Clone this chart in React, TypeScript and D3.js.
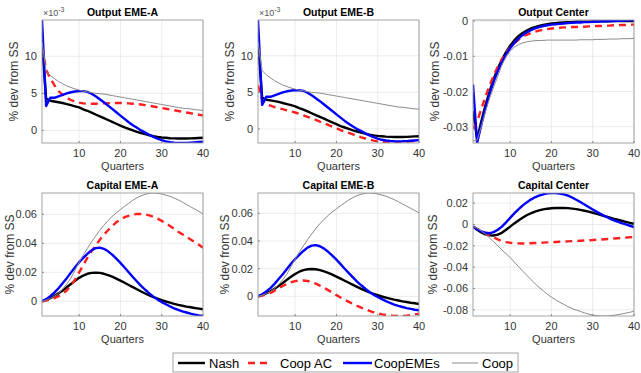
import React from 'react'
import * as d3 from 'd3'

const quarters = d3.range(1, 41)

// Output EME-A / EME-B, in units of 1e-3 (Nash, CoopEMEs, Coop are the same for both)
const outputEmeNash = [11.8, 4.3, 4.0, 3.9, 3.8, 3.7, 3.55, 3.4, 3.25, 3.1, 2.85, 2.65, 2.4, 2.15, 1.9, 1.65, 1.4, 1.15, 0.9, 0.65, 0.4, 0.2, 0.0, -0.2, -0.35, -0.5, -0.65, -0.78, -0.88, -0.95, -1.0, -1.05, -1.08, -1.1, -1.1, -1.1, -1.08, -1.05, -1.02, -1.0]
const outputEmeCoopEMEs = [14.9, 3.3, 4.4, 4.4, 4.6, 4.8, 5.0, 5.15, 5.25, 5.3, 5.3, 5.2, 4.95, 4.6, 4.2, 3.8, 3.35, 2.9, 2.45, 2.0, 1.55, 1.1, 0.7, 0.35, 0.0, -0.3, -0.6, -0.88, -1.12, -1.32, -1.48, -1.58, -1.65, -1.69, -1.7, -1.69, -1.66, -1.62, -1.57, -1.52]
const outputEmeCoop = [12.0, 8.0, 7.4, 7.0, 6.6, 6.3, 6.0, 5.8, 5.6, 5.45, 5.3, 5.2, 5.1, 5.0, 4.95, 4.9, 4.8, 4.7, 4.6, 4.5, 4.4, 4.3, 4.2, 4.1, 4.0, 3.9, 3.8, 3.7, 3.6, 3.5, 3.4, 3.3, 3.2, 3.1, 3.0, 2.95, 2.9, 2.8, 2.75, 2.7]
const outputACoopAC = [11.3, 8.2, 7.0, 6.1, 5.3, 4.8, 4.4, 4.1, 3.9, 3.75, 3.65, 3.6, 3.6, 3.6, 3.62, 3.65, 3.67, 3.7, 3.7, 3.7, 3.68, 3.65, 3.6, 3.55, 3.5, 3.42, 3.33, 3.23, 3.13, 3.02, 2.92, 2.82, 2.72, 2.62, 2.52, 2.42, 2.32, 2.22, 2.12, 2.0]
const outputBCoopAC = [6.0, 4.0, 3.4, 3.2, 3.0, 2.85, 2.7, 2.55, 2.4, 2.25, 2.05, 1.85, 1.65, 1.45, 1.25, 1.0, 0.8, 0.55, 0.3, 0.1, -0.15, -0.35, -0.55, -0.75, -0.95, -1.15, -1.3, -1.45, -1.6, -1.7, -1.8, -1.85, -1.9, -1.92, -1.9, -1.85, -1.78, -1.7, -1.62, -1.52]

// Output Center
const outputCenterNash = [-0.0255, -0.0335, -0.0285, -0.024, -0.02, -0.0165, -0.0135, -0.011, -0.0088, -0.007, -0.0055, -0.0043, -0.0034, -0.0027, -0.0021, -0.0017, -0.0014, -0.0011, -0.0009, -0.0007, -0.0006, -0.0005, -0.0004, -0.0003, -0.0003, -0.0002, -0.0002, -0.0002, -0.0002, -0.0001, -0.0001, -0.0001, -0.0001, -0.0001, 0, 0, 0, 0, 0, 0]
const outputCenterCoopAC = [-0.0305, -0.0285, -0.025, -0.0215, -0.0183, -0.0155, -0.013, -0.0108, -0.009, -0.0075, -0.0063, -0.0053, -0.0045, -0.0039, -0.0034, -0.003, -0.0027, -0.0025, -0.0023, -0.0021, -0.002, -0.0019, -0.0018, -0.0018, -0.0017, -0.0017, -0.0016, -0.0016, -0.0015, -0.0015, -0.0014, -0.0014, -0.0013, -0.0013, -0.0012, -0.0012, -0.0011, -0.0011, -0.001, -0.001]
const outputCenterCoopEMEs = [-0.018, -0.0346, -0.0295, -0.0248, -0.0207, -0.0172, -0.0142, -0.0117, -0.0095, -0.0077, -0.0062, -0.005, -0.004, -0.0032, -0.0026, -0.0021, -0.0017, -0.0014, -0.0012, -0.001, -0.0009, -0.0008, -0.0007, -0.0006, -0.0005, -0.0004, -0.0004, -0.0003, -0.0003, -0.0002, -0.0002, -0.0001, -0.0001, 0, 0, 0.0001, 0.0001, 0.0002, 0.0002, 0.0003]
const outputCenterCoop = [-0.034, -0.0338, -0.03, -0.0258, -0.022, -0.0187, -0.0157, -0.0125, -0.0102, -0.0085, -0.0074, -0.0067, -0.0062, -0.0059, -0.0057, -0.0056, -0.0055, -0.0055, -0.0054, -0.0054, -0.0054, -0.0054, -0.0054, -0.0054, -0.0054, -0.0054, -0.0053, -0.0053, -0.0053, -0.0053, -0.0052, -0.0052, -0.0052, -0.0051, -0.0051, -0.0051, -0.005, -0.005, -0.005, -0.0049]

// Capital EME-A / EME-B
const capitalEmeNash = [0, 0.001, 0.0022, 0.0037, 0.0055, 0.0075, 0.0097, 0.012, 0.0142, 0.0162, 0.0178, 0.019, 0.0196, 0.0198, 0.0196, 0.019, 0.0181, 0.017, 0.0157, 0.0143, 0.0128, 0.0113, 0.0098, 0.0083, 0.0068, 0.0054, 0.0041, 0.0029, 0.0018, 0.0008, -0.0001, -0.0009, -0.0017, -0.0024, -0.003, -0.0036, -0.0041, -0.0046, -0.005, -0.0055]
const capitalEmeCoopEMEs = [0, 0.0015, 0.0035, 0.006, 0.009, 0.0125, 0.016, 0.0198, 0.0235, 0.027, 0.03, 0.0328, 0.0352, 0.0367, 0.037, 0.0362, 0.0345, 0.0322, 0.0295, 0.0265, 0.0233, 0.02, 0.0168, 0.0137, 0.0107, 0.008, 0.0055, 0.0032, 0.0012, -0.0005, -0.002, -0.0035, -0.0048, -0.0059, -0.0069, -0.0077, -0.0085, -0.0091, -0.0097, -0.0101]
const capitalEmeCoop = [0, 0.0008, 0.002, 0.0035, 0.0055, 0.0085, 0.012, 0.016, 0.0215, 0.027, 0.032, 0.0365, 0.041, 0.045, 0.049, 0.0525, 0.0557, 0.0585, 0.061, 0.0633, 0.0655, 0.0676, 0.0697, 0.0714, 0.0728, 0.0738, 0.0745, 0.0747, 0.0745, 0.074, 0.0732, 0.0724, 0.0712, 0.0699, 0.0684, 0.0668, 0.0652, 0.0636, 0.062, 0.0603]
const capitalACoopAC = [0, 0.0005, 0.0012, 0.0022, 0.0035, 0.0052, 0.0075, 0.011, 0.015, 0.02, 0.025, 0.03, 0.0345, 0.0385, 0.0425, 0.046, 0.049, 0.052, 0.0545, 0.0565, 0.058, 0.059, 0.0598, 0.0602, 0.0602, 0.06, 0.0593, 0.0583, 0.057, 0.0555, 0.0538, 0.052, 0.05, 0.048, 0.0462, 0.0445, 0.0427, 0.0408, 0.039, 0.037]
const capitalBCoopAC = [0, 0.0005, 0.0013, 0.0025, 0.004, 0.0058, 0.0075, 0.009, 0.0102, 0.011, 0.0115, 0.0115, 0.0111, 0.0103, 0.0092, 0.0078, 0.0062, 0.0045, 0.0027, 0.0009, -0.0008, -0.0025, -0.004, -0.0055, -0.0069, -0.0082, -0.0094, -0.0105, -0.0115, -0.0123, -0.013, -0.0135, -0.0139, -0.0141, -0.0142, -0.0141, -0.0139, -0.0135, -0.013, -0.0125]

// Capital Center
const capitalCenterNash = [-0.002, -0.005, -0.0075, -0.0092, -0.0102, -0.0103, -0.0095, -0.0078, -0.005, -0.002, 0.001, 0.0038, 0.0063, 0.0086, 0.0105, 0.012, 0.0132, 0.0141, 0.0148, 0.0152, 0.0155, 0.0156, 0.0155, 0.0153, 0.0149, 0.0144, 0.0137, 0.0129, 0.012, 0.011, 0.0099, 0.0088, 0.0077, 0.0066, 0.0055, 0.0045, 0.0035, 0.0025, 0.0015, 0.0006]
const capitalCenterCoopAC = [-0.002, -0.004, -0.006, -0.008, -0.01, -0.012, -0.014, -0.0155, -0.0165, -0.0171, -0.0175, -0.0177, -0.0178, -0.0177, -0.0176, -0.0174, -0.0172, -0.017, -0.0168, -0.0166, -0.0164, -0.0162, -0.016, -0.0158, -0.0156, -0.0154, -0.0152, -0.015, -0.0148, -0.0146, -0.0143, -0.0141, -0.0138, -0.0135, -0.0132, -0.0129, -0.0126, -0.0123, -0.012, -0.0117]
const capitalCenterCoopEMEs = [-0.002, -0.0045, -0.0065, -0.0078, -0.0082, -0.0072, -0.005, -0.002, 0.002, 0.0062, 0.0104, 0.0142, 0.0177, 0.0207, 0.0233, 0.0255, 0.0271, 0.0283, 0.0291, 0.0295, 0.0294, 0.029, 0.0282, 0.027, 0.0253, 0.0232, 0.021, 0.0187, 0.0163, 0.014, 0.0118, 0.0097, 0.0077, 0.0058, 0.0041, 0.0026, 0.0012, 0.0, -0.0012, -0.0025]
const capitalCenterCoop = [-0.002, -0.0035, -0.006, -0.009, -0.0125, -0.0162, -0.02, -0.0238, -0.0274, -0.031, -0.0352, -0.0394, -0.0435, -0.0475, -0.0515, -0.0553, -0.0589, -0.0622, -0.0653, -0.0681, -0.0706, -0.0729, -0.0749, -0.077, -0.0788, -0.0802, -0.0815, -0.0828, -0.084, -0.0849, -0.0855, -0.0858, -0.0858, -0.0856, -0.0852, -0.0846, -0.0839, -0.0831, -0.0823, -0.0814]

const xTicks = [10, 20, 30, 40]
const outputEmeTicks = [0, 5, 10]
const outputCenterTicks = [-0.03, -0.02, -0.01, 0]
const capitalEmeTicks = [0, 0.02, 0.04, 0.06]
const capitalCenterTicks = [-0.08, -0.06, -0.04, -0.02, 0, 0.02]

const seriesNames = ['Nash', 'Coop AC', 'CoopEMEs', 'Coop']

const styles = [
  { stroke: '#000000', width: 2.4, dash: null },
  { stroke: '#ff1f1f', width: 2.4, dash: '7 5' },
  { stroke: '#0000ff', width: 2.4, dash: null },
  { stroke: '#8a8a8a', width: 1, dash: null },
]

const panels = [
  { title: 'Output EME-A', col: 0, row: 0, series: [outputEmeNash, outputACoopAC, outputEmeCoopEMEs, outputEmeCoop], ticks: outputEmeTicks, exponent: true, labelGap: 24 },
  { title: 'Output EME-B', col: 1, row: 0, series: [outputEmeNash, outputBCoopAC, outputEmeCoopEMEs, outputEmeCoop], ticks: outputEmeTicks, exponent: true, labelGap: 24 },
  { title: 'Output Center', col: 2, row: 0, series: [outputCenterNash, outputCenterCoopAC, outputCenterCoopEMEs, outputCenterCoop], ticks: outputCenterTicks, exponent: false, labelGap: 34 },
  { title: 'Capital EME-A', col: 0, row: 1, series: [capitalEmeNash, capitalACoopAC, capitalEmeCoopEMEs, capitalEmeCoop], ticks: capitalEmeTicks, exponent: false, labelGap: 28 },
  { title: 'Capital EME-B', col: 1, row: 1, series: [capitalEmeNash, capitalBCoopAC, capitalEmeCoopEMEs, capitalEmeCoop], ticks: capitalEmeTicks, exponent: false, labelGap: 29 },
  { title: 'Capital Center', col: 2, row: 1, series: [capitalCenterNash, capitalCenterCoopAC, capitalCenterCoopEMEs, capitalCenterCoop], ticks: capitalCenterTicks, exponent: false, labelGap: 36 },
]

const W = 641, H = 373
const colLeft = [42, 258, 473]
const rowTop = [20, 193]
const pw = 161, ph = 123
const font = '"Liberation Sans", Arial, Helvetica, sans-serif'
const fmt = (v: number) => `${+v.toFixed(3)}`

function Panel({ p, idx }: { p: typeof panels[number], idx: number }) {
  const left = colLeft[p.col], top = rowTop[p.row]
  const x = d3.scaleLinear().domain([1, 40]).range([left, left + pw])
  const ext = d3.extent(p.series.flat()) as [number, number]
  const y = d3.scaleLinear().domain(ext).range([top + ph, top])
  const line = d3.line<number>().x((_, i) => x(quarters[i])).y(d => y(d))
  const clipId = `clip-${idx}`
  return (
    <g>
      <defs>
        <clipPath id={clipId}><rect x={left} y={top} width={pw} height={ph} /></clipPath>
      </defs>
      <rect x={left} y={top} width={pw} height={ph} fill="#fff" />
      {xTicks.map(t => (
        <line key={'gx' + t} x1={x(t)} x2={x(t)} y1={top} y2={top + ph} stroke="#e6e6e6" strokeWidth={0.8} />
      ))}
      {p.ticks.map(t => (
        <line key={'gy' + t} x1={left} x2={left + pw} y1={y(t)} y2={y(t)} stroke="#e6e6e6" strokeWidth={0.8} />
      ))}
      <g clipPath={`url(#${clipId})`}>
        {p.series.map((s, i) => (
          <path key={i} d={line(s) || ''} fill="none" stroke={styles[i].stroke} strokeWidth={styles[i].width}
            strokeDasharray={styles[i].dash || undefined} strokeLinejoin="round" />
        ))}
      </g>
      <rect x={left} y={top} width={pw} height={ph} fill="none" stroke="#9a9a9a" strokeWidth={0.9} />
      {xTicks.map(t => (
        <g key={'tx' + t}>
          <line x1={x(t)} x2={x(t)} y1={top + ph} y2={top + ph - 2} stroke="#777" strokeWidth={0.8} />
          <text x={x(t)} y={top + ph + 14} textAnchor="middle" fontSize={11} fill="#333">{t}</text>
        </g>
      ))}
      {p.ticks.map(t => (
        <g key={'ty' + t}>
          <line x1={left} x2={left + 2} y1={y(t)} y2={y(t)} stroke="#777" strokeWidth={0.8} />
          <text x={left - 5} y={y(t) + 4} textAnchor="end" fontSize={11} fill="#333">{fmt(t)}</text>
        </g>
      ))}
      <text x={left + pw / 2} y={top - 4} textAnchor="middle" fontSize={10.5} fontWeight="bold" fill="#000">{p.title}</text>
      <text x={left + pw / 2} y={top + ph + 27} textAnchor="middle" fontSize={11} fill="#333">Quarters</text>
      <text transform={`translate(${left - p.labelGap},${top + ph / 2}) rotate(-90)`} textAnchor="middle" fontSize={12} fill="#333">% dev from SS</text>
      {p.exponent && (
        <text x={left + 1} y={top - 4} fontSize={9} fill="#555">
          ×10<tspan dy={-4} fontSize={7}>-3</tspan>
        </text>
      )}
    </g>
  )
}

const legendItems = [
  { x1: 178, x2: 205, tx: 209 },
  { x1: 248, x2: 271, tx: 280 },
  { x1: 343, x2: 372, tx: 374 },
  { x1: 452, x2: 478, tx: 482 },
]

export default function App() {
  return (
    <svg width={W} height={H} style={{ position: 'absolute', left: 0, top: 0, fontFamily: font, background: '#fff' }}>
      <rect x={0} y={0} width={W} height={H} fill="#fff" />
      {panels.map((p, i) => <Panel key={p.title} p={p} idx={i} />)}
      <g>
        <rect x={173} y={353} width={345} height={19} fill="#fff" stroke="#9a9a9a" strokeWidth={0.9} />
        {seriesNames.map((n, i) => (
          <g key={n}>
            <line x1={legendItems[i].x1} x2={legendItems[i].x2} y1={363} y2={363} stroke={styles[i].stroke}
              strokeWidth={styles[i].width} strokeDasharray={styles[i].dash || undefined} />
            <text x={legendItems[i].tx} y={368} fontSize={13} fill="#000">{n}</text>
          </g>
        ))}
      </g>
    </svg>
  )
}
